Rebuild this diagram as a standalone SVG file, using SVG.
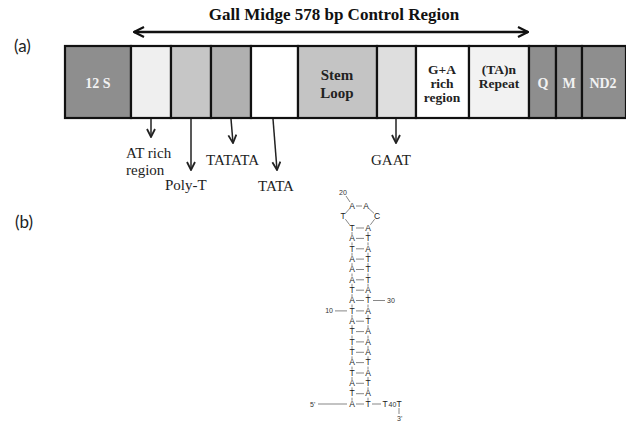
<svg xmlns="http://www.w3.org/2000/svg" width="626" height="440" viewBox="0 0 626 440">
<style>
.title{font-family:"Liberation Serif",serif;font-weight:bold;font-size:17px;fill:#111}
.panel{font-family:Lato,"Liberation Sans",sans-serif;font-size:17px;fill:#222}
.box{stroke:#111;stroke-width:2.2}
.bl{font-family:"Liberation Serif",serif;font-weight:bold;font-size:13.5px;text-anchor:middle;fill:#222}
.wl{fill:#f2f2f2;font-size:14px}
.lab{font-family:"Liberation Serif",serif;font-size:15px;fill:#222}
.arr{stroke:#222;stroke-width:1.5;fill:none}
.nt{font-family:"Liberation Sans",sans-serif;font-size:8.5px;text-anchor:middle;fill:#222}
.num{font-family:"Liberation Sans",sans-serif;font-size:7px;fill:#333}
.bond{stroke:#555;stroke-width:0.7;fill:none}
</style>
<defs>
<marker id="v" viewBox="0 0 10 10" refX="9" refY="5" markerWidth="10" markerHeight="10" markerUnits="userSpaceOnUse" orient="auto-start-reverse">
<path d="M1,1 L9,5 L1,9" fill="none" stroke="#222" stroke-width="1.8"/>
</marker>
<marker id="vb" viewBox="0 0 12 12" refX="11" refY="6" markerWidth="12" markerHeight="12" markerUnits="userSpaceOnUse" orient="auto-start-reverse">
<path d="M1,1 L11,6 L1,11" fill="none" stroke="#111" stroke-width="2.2"/>
</marker>
</defs>

<g id="title">
<text class="title" x="334" y="20" text-anchor="middle">Gall Midge 578 bp Control Region</text>
<line x1="134" y1="32" x2="528" y2="32" stroke="#111" stroke-width="2.5" marker-start="url(#vb)" marker-end="url(#vb)"/>
</g>
<text class="panel" x="14" y="52">(a)</text>
<text class="panel" x="15" y="228">(b)</text>

<g id="n-12S"><rect class="box" x="65" y="46" width="66" height="72" fill="#8e8e8e"/><text class="bl wl" x="98" y="88">12 S</text></g>
<g id="n-atrich"><rect class="box" x="131" y="46" width="40" height="72" fill="#efefef"/></g>
<g id="n-polyt"><rect class="box" x="171" y="46" width="40" height="72" fill="#c6c6c6"/></g>
<g id="n-tatata"><rect class="box" x="211" y="46" width="40" height="72" fill="#b0b0b0"/></g>
<g id="n-tata"><rect class="box" x="251" y="46" width="47" height="72" fill="#ffffff"/></g>
<g id="n-stem"><rect class="box" x="298" y="46" width="79" height="72" fill="#c4c4c4"/><text class="bl" x="337" y="80" style="font-size:15px">Stem</text><text class="bl" x="337" y="98" style="font-size:15px">Loop</text></g>
<g id="n-gaat"><rect class="box" x="377" y="46" width="39" height="72" fill="#dedede"/></g>
<g id="n-ga"><rect class="box" x="416" y="46" width="53" height="72" fill="#ffffff"/><text class="bl" x="442" y="74">G+A</text><text class="bl" x="442" y="88">rich</text><text class="bl" x="442" y="102">region</text></g>
<g id="n-ta"><rect class="box" x="469" y="46" width="60" height="72" fill="#f2f2f2"/><text class="bl" x="499" y="74">(TA)n</text><text class="bl" x="499" y="88">Repeat</text></g>
<g id="n-q"><rect class="box" x="529" y="46" width="27" height="72" fill="#8e8e8e"/><text class="bl wl" x="543" y="88">Q</text></g>
<g id="n-m"><rect class="box" x="556" y="46" width="26" height="72" fill="#8e8e8e"/><text class="bl wl" x="569" y="88">M</text></g>
<g id="n-nd2"><rect class="box" x="582" y="46" width="44" height="72" fill="#8e8e8e"/><text class="bl wl" x="603" y="88">ND2</text></g>

<g id="connectors">
<line class="arr" x1="151" y1="119" x2="151" y2="137" marker-end="url(#v)"/>
<line class="arr" x1="191" y1="119" x2="191" y2="170" marker-end="url(#v)"/>
<line class="arr" x1="231" y1="119" x2="233" y2="143" marker-end="url(#v)"/>
<line class="arr" x1="273" y1="119" x2="277" y2="170" marker-end="url(#v)"/>
<line class="arr" x1="396" y1="119" x2="396" y2="143" marker-end="url(#v)"/>
</g>
<g id="labels">
<text class="lab" x="126" y="158">AT rich</text>
<text class="lab" x="126" y="175">region</text>
<text class="lab" x="165" y="190">Poly-T</text>
<text class="lab" x="206" y="165">TATATA</text>
<text class="lab" x="258" y="191">TATA</text>
<text class="lab" x="371" y="165">GAAT</text>
</g>

<g id="hairpin">
<g class="bond">
<line x1="349.6" y1="224.8" x2="345.4" y2="219.2"/>
<line x1="345.7" y1="213" x2="349.3" y2="209"/>
<line x1="356" y1="206" x2="362" y2="206"/>
<line x1="369" y1="208.7" x2="374" y2="213.3"/>
<line x1="374.6" y1="219.2" x2="370.4" y2="224.8"/>
<line x1="346" y1="196" x2="350" y2="202"/>
<line x1="356" y1="228" x2="364" y2="228"/>
</g>
<text class="num" x="339" y="195">20</text>
<text class="nt" x="343" y="219">T</text>
<text class="nt" x="352" y="209">A</text>
<text class="nt" x="366" y="209">A</text>
<text class="nt" x="377" y="219">C</text>
<text class="nt" x="352" y="231">T</text>
<text class="nt" x="368" y="231">A</text>
<g id="stem">
<g class="bond">
<path d="M352,232 V235 M368,232 V235 M356,238.4 H364"/>
<path d="M352,242.4 V245.4 M368,242.4 V245.4 M356,248.8 H364"/>
<path d="M352,252.8 V255.8 M368,252.8 V255.8 M356,259.1 H364"/>
<path d="M352,263.1 V266.1 M368,263.1 V266.1 M356,269.5 H364"/>
<path d="M352,273.5 V276.5 M368,273.5 V276.5 M356,279.8 H364"/>
<path d="M352,283.8 V286.8 M368,283.8 V286.8 M356,290.2 H364"/>
<path d="M352,294.2 V297.2 M368,294.2 V297.2 M356,300.5 H364"/>
<path d="M352,304.5 V307.5 M368,304.5 V307.5 M356,310.9 H364"/>
<path d="M352,314.9 V317.9 M368,314.9 V317.9 M356,321.2 H364"/>
<path d="M352,325.2 V328.2 M368,325.2 V328.2 M356,331.6 H364"/>
<path d="M352,335.6 V338.6 M368,335.6 V338.6 M356,341.9 H364"/>
<path d="M352,345.9 V348.9 M368,345.9 V348.9 M356,352.3 H364"/>
<path d="M352,356.3 V359.3 M368,356.3 V359.3 M356,362.6 H364"/>
<path d="M352,366.6 V369.6 M368,366.6 V369.6 M356,373 H364"/>
<path d="M352,377 V380 M368,377 V380 M356,383.3 H364"/>
<path d="M352,387.3 V390.3 M368,387.3 V390.3 M356,393.7 H364"/>
<path d="M352,397.7 V400.7 M368,397.7 V400.7 M356,404 H364"/>
<path d="M373,300.5 H385 M335,310.9 H347 M318,404 H347 M372,404 H381 M399,408 V414"/>
</g>
<text class="nt" x="352" y="241.1">A</text><text class="nt" x="368" y="241.1">T</text>
<text class="nt" x="352" y="251.5">T</text><text class="nt" x="368" y="251.5">A</text>
<text class="nt" x="352" y="261.8">A</text><text class="nt" x="368" y="261.8">T</text>
<text class="nt" x="352" y="272.2">A</text><text class="nt" x="368" y="272.2">T</text>
<text class="nt" x="352" y="282.5">A</text><text class="nt" x="368" y="282.5">T</text>
<text class="nt" x="352" y="292.9">T</text><text class="nt" x="368" y="292.9">A</text>
<text class="nt" x="352" y="303.2">A</text><text class="nt" x="368" y="303.2">T</text>
<text class="nt" x="352" y="313.6">T</text><text class="nt" x="368" y="313.6">A</text>
<text class="nt" x="352" y="323.9">A</text><text class="nt" x="368" y="323.9">T</text>
<text class="nt" x="352" y="334.3">T</text><text class="nt" x="368" y="334.3">A</text>
<text class="nt" x="352" y="344.6">T</text><text class="nt" x="368" y="344.6">A</text>
<text class="nt" x="352" y="355">T</text><text class="nt" x="368" y="355">A</text>
<text class="nt" x="352" y="365.3">A</text><text class="nt" x="368" y="365.3">T</text>
<text class="nt" x="352" y="375.7">T</text><text class="nt" x="368" y="375.7">A</text>
<text class="nt" x="352" y="386">A</text><text class="nt" x="368" y="386">T</text>
<text class="nt" x="352" y="396.4">T</text><text class="nt" x="368" y="396.4">A</text>
<text class="nt" x="352" y="406.7">A</text><text class="nt" x="368" y="406.7">T</text>
<text class="num" x="387" y="303">30</text>
<text class="num" x="333" y="313.4" text-anchor="end">10</text>
<text class="num" x="310" y="406.5">5'</text>
<text class="nt" x="385" y="406.7">T</text>
<text class="num" x="388.5" y="406.5">40</text>
<text class="nt" x="399" y="406.7">T</text>
<text class="num" x="397" y="421">3'</text>
</g>
</g>
</svg>
